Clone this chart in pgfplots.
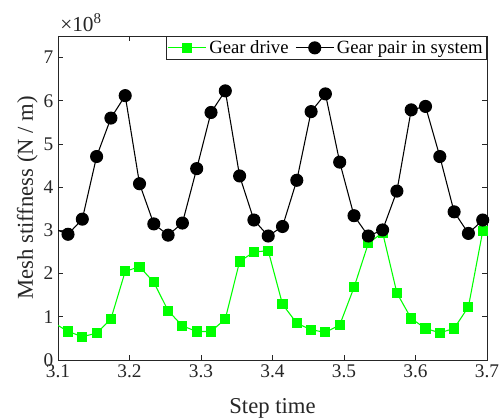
\documentclass[border=0pt]{standalone}
\usepackage{fontspec}
\setmainfont{Liberation Serif}
\usepackage{pgfplots}
\pgfplotsset{compat=1.18}
\definecolor{axgray}{RGB}{38,38,38}
\definecolor{drivegreen}{RGB}{0,255,0}

\begin{document}
\begin{tikzpicture}
\begin{axis}[
    name=ax,
    scale only axis, width=321.75pt, height=243pt,
    xmin=3.1, xmax=3.7, ymin=0, ymax=7.5,
    xtick={3.1,3.2,...,3.7}, ytick={0,1,...,7},
    xticklabel style={/pgf/number format/.cd, fixed, fixed zerofill, precision=1},
    /pgf/number format/assume math mode=true,
    tick align=inside, major tick length=4pt,
    axis line style={axgray, line width=0.6pt},
    every tick/.style={axgray, line width=0.6pt},
    tick label style={font=\fontsize{14.5}{16}\selectfont, text=axgray},
    label style={font=\fontsize{17}{19}\selectfont, text=axgray},
    xlabel={Step time}, ylabel={Mesh stiffness (N / m)},
    xlabel style={at={([yshift=-40.5pt]rel axis cs:0.5,0)}, anchor=base},
    ylabel style={at={([xshift=-18.75pt]rel axis cs:0,0.5)}, anchor=base},
    legend columns=2,
    legend style={at={(1,1)}, anchor=north east, draw=axgray, line width=0.6pt,
        font=\fontsize{14}{16}\selectfont, inner sep=1pt,
        /tikz/every even column/.append style={column sep=3pt}},
    legend image code/.code={\draw[#1, mark=none] (0cm,0cm) -- (1cm,0cm);
        \draw[#1, only marks, mark indices={0,1,2}] plot coordinates {(0.5cm,0cm)};},
]
\addplot[drivegreen, line width=0.8pt, mark=square*, mark size=3.4pt,
    mark indices={1,...,30}, mark options={fill=drivegreen, draw=drivegreen}] coordinates {
  (3.094,0.86)
  (3.114,0.66) (3.134,0.54) (3.154,0.62) (3.174,0.95) (3.194,2.05)
  (3.214,2.16) (3.234,1.80) (3.254,1.14) (3.274,0.79) (3.294,0.66)
  (3.314,0.66) (3.334,0.95) (3.354,2.28) (3.374,2.50) (3.394,2.53)
  (3.414,1.29) (3.434,0.85) (3.454,0.70) (3.474,0.64) (3.494,0.81)
  (3.514,1.68) (3.534,2.70) (3.554,2.95) (3.574,1.55) (3.594,0.96)
  (3.614,0.73) (3.634,0.63) (3.654,0.73) (3.674,1.23) (3.694,2.98)
};
\addlegendentry{Gear drive}
\addplot[black, line width=0.8pt, mark=*, mark size=4.5pt,
    mark indices={1,...,30}, mark options={fill=black, draw=black}] coordinates {
  (3.094,3.04)
  (3.114,2.91) (3.134,3.26) (3.154,4.71) (3.174,5.60) (3.194,6.12)
  (3.214,4.08) (3.234,3.15) (3.254,2.89) (3.274,3.17) (3.294,4.43)
  (3.314,5.73) (3.334,6.23) (3.354,4.26) (3.374,3.24) (3.394,2.87)
  (3.414,3.09) (3.434,4.16) (3.454,5.75) (3.474,6.16) (3.494,4.58)
  (3.514,3.34) (3.534,2.87) (3.554,3.01) (3.574,3.91) (3.594,5.79)
  (3.614,5.87) (3.634,4.71) (3.654,3.43) (3.674,2.93) (3.694,3.24)
};
\addlegendentry{Gear pair in system}
\end{axis}
\node[anchor=base west, inner sep=0pt, text=axgray, font=\fontsize{16}{18}\selectfont]
    at ([xshift=1.5pt, yshift=3pt]ax.north west) {×10\textsuperscript{8}};
\pgfresetboundingbox
\useasboundingbox ([xshift=-43.5pt, yshift=-43.5pt]ax.south west)
    rectangle ([xshift=11.25pt, yshift=27pt]ax.north east);
\end{tikzpicture}
\end{document}
